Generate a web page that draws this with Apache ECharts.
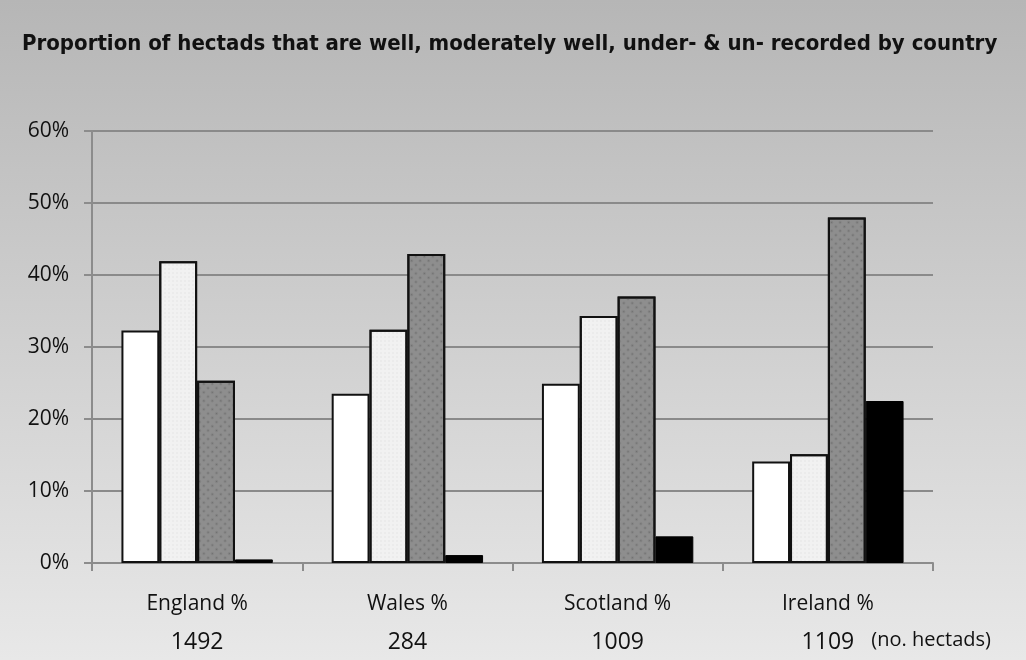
<!DOCTYPE html>
<html><head><meta charset="utf-8">
<script src="https://cdn.jsdelivr.net/npm/echarts@6/dist/echarts.min.js"></script>
<style>html,body{margin:0;padding:0;}#c{width:1026px;height:660px;}</style>
</head><body><div id="c"></div>
<script>
const categories = ['England %', 'Wales %', 'Scotland %', 'Ireland %'];
const hectadCounts = ['1492', '284', '1009', '1109'];
const wellRecorded = [32.3, 23.5, 24.9, 14.1];
const moderatelyWell = [41.9, 32.4, 34.3, 15.1];
const underRecorded = [25.3, 42.9, 37.0, 48.0];
const unRecorded = [0.5, 1.1, 3.7, 22.5];
const yTicks = [0, 10, 20, 30, 40, 50, 60];

const chart = echarts.init(document.getElementById('c'));
const font = 'Open Sans';
const borderStyle = { borderColor: '#111', borderWidth: 2 };
chart.setOption({
  animation: false,
  backgroundColor: {
    type: 'linear', x: 0, y: 0, x2: 0, y2: 1,
    colorStops: [{ offset: 0, color: '#b6b6b6' }, { offset: 1, color: '#e8e8e8' }]
  },
  title: {
    text: 'Proportion of hectads that are well, moderately well, under- & un- recorded by country',
    left: 17, top: 28,
    textStyle: { fontFamily: 'DejaVu Sans Condensed', fontWeight: 'bold', fontSize: 22, color: '#111' }
  },
  grid: { left: 92, right: 93, top: 131, bottom: 97 },
  xAxis: {
    type: 'category', data: categories,
    axisLine: { lineStyle: { color: '#8c8c8c', width: 2 } },
    axisTick: { show: true, length: 8, lineStyle: { color: '#8c8c8c', width: 2 } },
    axisLabel: {
      margin: 22,
      formatter: (v, i) => '{a|' + v + '}\n{b|' + hectadCounts[i] + '}',
      rich: {
        a: { fontFamily: font, fontSize: 21, color: '#111', lineHeight: 38 },
        b: { fontFamily: font, fontSize: 23, color: '#111', lineHeight: 38 }
      }
    }
  },
  yAxis: {
    type: 'value', min: yTicks[0], max: yTicks[yTicks.length - 1], interval: 10,
    axisLine: { show: true, lineStyle: { color: '#8c8c8c', width: 2 } },
    axisTick: { show: true, length: 8, lineStyle: { color: '#8c8c8c', width: 2 } },
    splitLine: { lineStyle: { color: '#8a8a8a', width: 2 } },
    axisLabel: { formatter: '{value}%', fontFamily: font, fontSize: 21, color: '#111', margin: 23 }
  },
  graphic: [{
    type: 'text', right: 35, top: 630,
    style: { text: '(no. hectads)', font: '20px "Open Sans"', fill: '#111' }
  }],
  series: [
    { type: 'bar', name: 'Well recorded', data: wellRecorded, barGap: '0%', barCategoryGap: '28%',
      itemStyle: Object.assign({ color: '#ffffff' }, borderStyle) },
    { type: 'bar', name: 'Moderately well recorded', data: moderatelyWell,
      itemStyle: Object.assign({ color: '#f1f1f1',
        decal: { symbol: 'rect', symbolSize: 0.5, color: 'rgba(200,200,200,0.5)', dashArrayX: [2, 2], dashArrayY: [2, 2], rotation: 0 } }, borderStyle) },
    { type: 'bar', name: 'Under-recorded', data: underRecorded,
      itemStyle: Object.assign({ color: '#8e8e8e',
        decal: { symbol: 'rect', symbolSize: 0.6, color: 'rgba(90,90,90,0.6)', dashArrayX: [3, 3], dashArrayY: [3, 3], rotation: 0.785 } }, borderStyle) },
    { type: 'bar', name: 'Un-recorded', data: unRecorded,
      itemStyle: { color: '#000', borderColor: '#000', borderWidth: 1 } }
  ]
});
</script></body></html>
